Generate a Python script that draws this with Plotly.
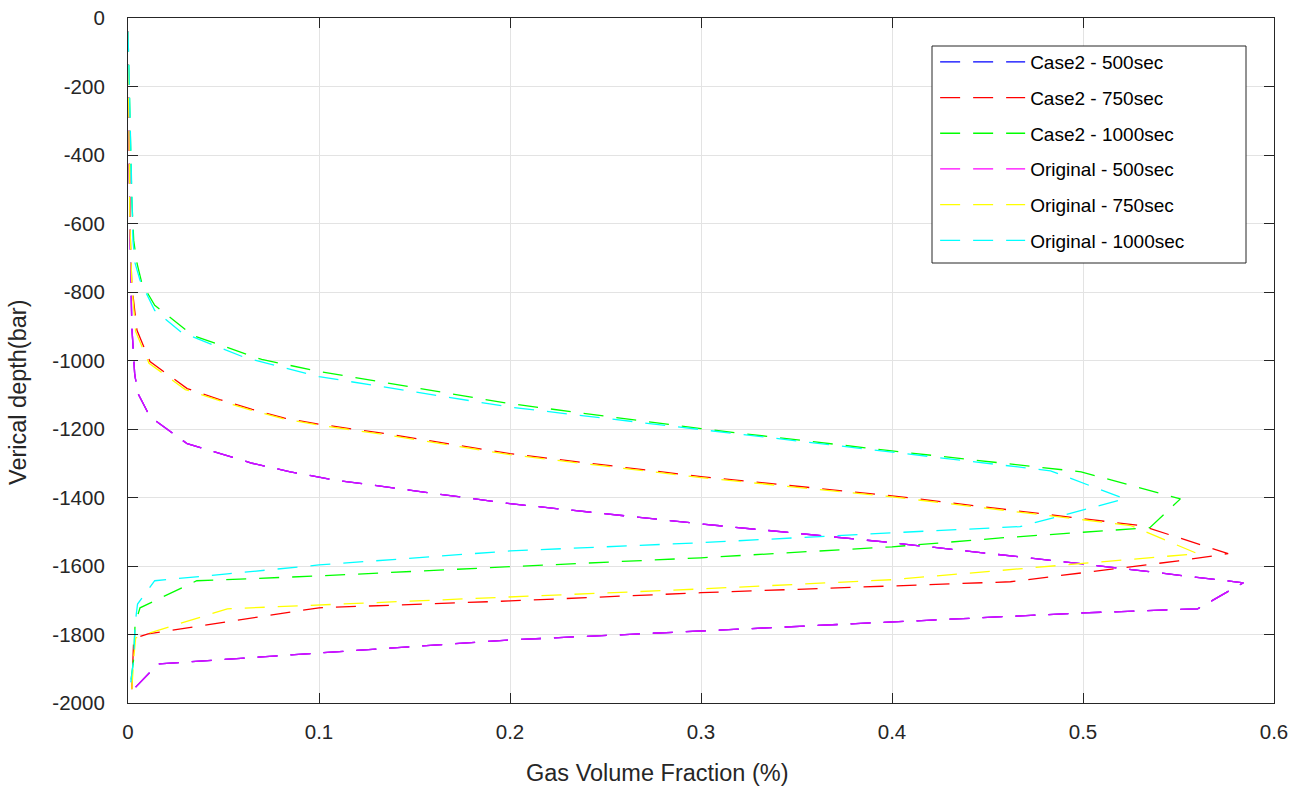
import plotly.graph_objects as go

# ---- data ----
case2_500_gvf = [0, 0.001, 0.002, 0.0035, 0.0052, 0.0115, 0.031, 0.065, 0.085, 0.107, 0.2, 0.3, 0.4, 0.5,
                 0.584, 0.560, 0.5, 0.4, 0.3, 0.2, 0.1, 0.0157, 0.002]
case2_500_depth = [-40, -600, -900, -1040, -1096, -1164, -1243, -1300, -1325, -1348, -1418, -1477, -1532, -1594,
                   -1649, -1725, -1737, -1763, -1789, -1816, -1854, -1886, -1965]

case2_750_gvf = [0, 0.001, 0.002, 0.0047, 0.0115, 0.031, 0.048, 0.065, 0.082, 0.1, 0.134, 0.2, 0.3, 0.4, 0.5,
                 0.5304, 0.576, 0.55, 0.462, 0.404, 0.3, 0.2, 0.1, 0.0105, 0.003, 0.002]
case2_750_depth = [-40, -600, -780, -912, -1003, -1082, -1114, -1143, -1168, -1186, -1213, -1272, -1339, -1395, -1462,
                   -1482, -1564, -1585, -1646, -1658, -1678, -1702, -1722, -1798, -1812, -1960]

case2_1000_gvf = [0, 0.002, 0.003, 0.0047, 0.0073, 0.014, 0.034, 0.070, 0.1, 0.2, 0.3, 0.4, 0.499, 0.551,
                  0.535, 0.457, 0.4, 0.3, 0.2, 0.1, 0.036, 0.0063, 0.0037, 0.003, 0.001]
case2_1000_depth = [-40, -530, -650, -716, -775, -839, -927, -997, -1032, -1126, -1199, -1264, -1325, -1404,
                    -1488, -1518, -1544, -1576, -1602, -1629, -1643, -1722, -1769, -1870, -1960]

orig_500_gvf = list(case2_500_gvf)
orig_500_depth = list(case2_500_depth)

orig_750_gvf = [0, 0.001, 0.002, 0.004, 0.011, 0.030, 0.048, 0.065, 0.082, 0.1, 0.134, 0.2, 0.3, 0.4, 0.5,
                0.525, 0.560, 0.4, 0.3, 0.2, 0.1, 0.052, 0.0115, 0.004, 0.003, 0.002]
orig_750_depth = [-40, -600, -780, -915, -1008, -1085, -1117, -1146, -1171, -1189, -1216, -1275, -1342, -1398, -1465,
                  -1482, -1564, -1640, -1667, -1690, -1713, -1725, -1795, -1810, -1870, -1960]

orig_1000_gvf = [0, 0.002, 0.0026, 0.0037, 0.0063, 0.014, 0.028, 0.061, 0.1, 0.2, 0.3, 0.4, 0.483, 0.522,
                 0.467, 0.4, 0.3, 0.2, 0.1, 0.052, 0.014, 0.005, 0.0037, 0.003, 0.001]
orig_1000_depth = [-40, -530, -650, -716, -766, -854, -918, -991, -1047, -1136, -1202, -1269, -1322, -1404,
                   -1485, -1503, -1532, -1556, -1597, -1623, -1643, -1711, -1769, -1870, -1960]

names = ["Case2 - 500sec", "Case2 - 750sec", "Case2 - 1000sec",
         "Original - 500sec", "Original - 750sec", "Original - 1000sec"]
colors = ["#0000ff", "#ff0000", "#00ff00", "#ff00ff", "#ffff00", "#00ffff"]
xs = [case2_500_gvf, case2_750_gvf, case2_1000_gvf, orig_500_gvf, orig_750_gvf, orig_1000_gvf]
ys = [case2_500_depth, case2_750_depth, case2_1000_depth, orig_500_depth, orig_750_depth, orig_1000_depth]

x_ticks = [0, 0.1, 0.2, 0.3, 0.4, 0.5, 0.6]
y_ticks = [0, -200, -400, -600, -800, -1000, -1200, -1400, -1600, -1800, -2000]

FONT = "Liberation Sans, Arial, sans-serif"
DASH = "20px,13px"
TXT = "#262626"

fig = go.Figure()
for i in range(6):
    fig.add_trace(go.Scatter(
        x=xs[i], y=ys[i], mode="lines", name=names[i],
        line=dict(color=colors[i], width=1.3, dash=DASH),
        legendgroup=f"g{i}", legendrank=i + 1,
    ))
    if i == 3:
        # blue (Case2 500) and magenta overlap: blended violet rendering
        fig.add_trace(go.Scatter(
            x=orig_500_gvf, y=orig_500_depth, mode="lines", showlegend=False,
            line=dict(color="#cc11ff", width=1.3, dash=DASH), hoverinfo="skip",
        ))

axis_common = dict(
    showline=True, linecolor=TXT, linewidth=1.2, mirror="ticks",
    ticks="inside", ticklen=10, tickcolor=TXT, tickwidth=1.2,
    showgrid=True, gridcolor="#e3e3e3", gridwidth=1, zeroline=False,
    automargin=False,
    tickfont=dict(family=FONT, size=20.5, color=TXT),
)

# plot area in pixels: x 128..1274, y 18..703
PW, PH, L, T = 1146, 685, 128, 18
def px(xp):
    return (xp - L) / PW
def py(yp):
    return (T + PH - yp) / PH

fig.update_layout(
    width=1290, height=789,
    margin=dict(l=128, r=16, t=18, b=86),
    paper_bgcolor="white", plot_bgcolor="white",
    font=dict(family=FONT, color=TXT),
    xaxis=dict(range=[0, 0.6], tickvals=x_ticks, ticktext=[("%g" % v) for v in x_ticks],
               ticklabelstandoff=10, **axis_common),
    yaxis=dict(range=[-2000, 0], tickvals=y_ticks, ticktext=[str(v) for v in y_ticks],
               ticklabelstandoff=18, **axis_common),
    legend=dict(x=0.7043, y=0.9635, xanchor="left", yanchor="top",
                bgcolor="rgba(0,0,0,0)", borderwidth=0,
                font=dict(family=FONT, size=19, color="#000000"),
                itemwidth=85, tracegroupgap=8),
    showlegend=True,
    shapes=[dict(type="rect", xref="paper", yref="paper",
                 x0=px(932), x1=px(1246), y0=py(263), y1=py(46),
                 line=dict(color=TXT, width=1), fillcolor="white", layer="above")],
    annotations=[
        dict(text="Gas Volume Fraction (%)", xref="paper", yref="paper", x=px(657), y=py(773),
             xanchor="center", yanchor="middle",
             showarrow=False, font=dict(family=FONT, size=23.5, color=TXT)),
        dict(text="Verical depth(bar)", xref="paper", yref="paper", x=px(18), y=py(392),
             xanchor="center", yanchor="middle",
             textangle=-90, showarrow=False, font=dict(family=FONT, size=23.5, color=TXT)),
    ],
)

fig.write_html("out.html")
